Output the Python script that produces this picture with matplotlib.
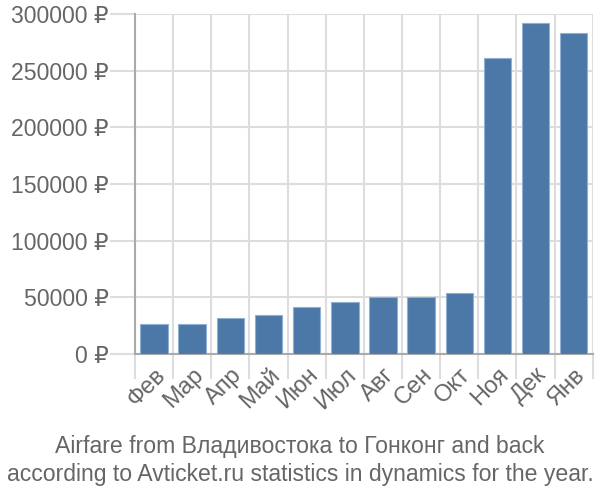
import matplotlib
matplotlib.use("Agg")
import matplotlib.pyplot as plt
from matplotlib.ticker import FuncFormatter

plt.rcParams['font.family'] = ['Liberation Sans', 'DejaVu Sans']

months = ["Фев", "Мар", "Апр", "Май", "Июн", "Июл", "Авг", "Сен", "Окт", "Ноя", "Дек", "Янв"]
prices = [26500, 26200, 31800, 34400, 41500, 45600, 50000, 50300, 53500, 260900, 291800, 283000]
yticks = [0, 50000, 100000, 150000, 200000, 250000, 300000]
title_lines = ["Airfare from Владивостока to Гонконг and back",
               "according to Avticket.ru statistics in dynamics for the year."]

fig = plt.figure(figsize=(6, 5), dpi=100)
ax = fig.add_axes([0.225, 0.292, 0.763, 0.68])

x = list(range(len(months)))
ax.bar(x, prices, width=0.72, color="#4c78a8", edgecolor="#8fb0d3", linewidth=0.8, zorder=3)

ax.set_xlim(-0.5, len(months) - 0.5)
ax.set_ylim(0, 300000)
ax.set_yticks(yticks)
ax.yaxis.set_major_formatter(FuncFormatter(lambda v, p: f"{int(v)} ₽"))

ax.set_xticks([i - 0.5 for i in x] + [len(months) - 0.5], minor=False)
ax.set_xticklabels([""] * (len(months) + 1))
ax.set_xticks(x, minor=True)
ax.set_xticklabels(months, minor=True, rotation=45, ha="right", va="top",
                   rotation_mode="anchor", fontsize=17, color="#666666")
ax.tick_params(axis="x", which="minor", length=0, pad=7)
ax.tick_params(axis="x", which="major", length=18, width=1.5, color="#dddddd")
ax.tick_params(axis="y", length=18, width=1.5, color="#dddddd", labelsize=16.6,
               labelcolor="#666666", pad=1)

ax.grid(True, which="major", color="#dddddd", linewidth=1.5, zorder=0)
ax.set_axisbelow(True)
for s in ["top", "right"]:
    ax.spines[s].set_visible(False)
for s in ["left", "bottom"]:
    ax.spines[s].set_color("#aaaaaa")
    ax.spines[s].set_linewidth(1.5)

fig.text(0.5, 0.106, title_lines[0], ha="center", va="center", fontsize=16.6, color="#666666")
fig.text(0.5, 0.050, title_lines[1], ha="center", va="center", fontsize=16.6, color="#666666")

fig.savefig("out.png", dpi=100)
